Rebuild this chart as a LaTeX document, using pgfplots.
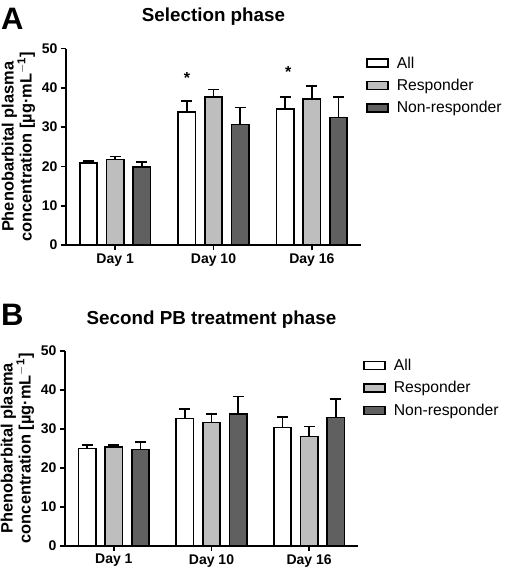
\documentclass[border=0pt]{standalone}
\usepackage{fontspec}
\setmainfont{Liberation Sans}
\usepackage{pgfplots}
\pgfplotsset{compat=1.18}
\definecolor{resp}{RGB}{190,190,190}
\definecolor{nonresp}{RGB}{96,96,96}
\pgfplotsset{
  panel/.style={
    scale only axis,
    xmin=-0.5, xmax=2.5, ymin=0, ymax=50,
    axis x line*=bottom, axis y line*=left,
    axis line style={line width=1.7pt,-},
    xtick={0,1,2}, xticklabels={Day 1,Day 10,Day 16},
    ytick={0,10,20,30,40,50},
    tick align=outside, major tick length=5pt,
    every tick/.style={black,line width=1.7pt},
    tick label style={font=\bfseries\fontsize{14}{16}\selectfont},
    /pgf/number format/assume math mode=true,
    ylabel={Phenobarbital plasma\\concentration [µg·mL$^{\mathbf{-1}}$]},
    ylabel style={align=center,font=\bfseries\fontsize{16.4}{18}\selectfont},
    title style={at={(0.5,1)},anchor=base,yshift=21pt,font=\bfseries\fontsize{18.8}{20}\selectfont},
    ybar=9.2pt, bar width=17.5pt,
    legend style={at={(rel axis cs:1,1)},anchor=north west,xshift=2pt,yshift=-4pt,
      draw=none,fill=none,font=\fontsize{15.7}{18}\selectfont,row sep=5.5pt,
      legend cell align=left,
      /tikz/every odd column/.style={column sep=6pt}},
    legend image code/.code={\draw[#1,line width=1.6pt] (0pt,-4pt) rectangle (21pt,4pt);},
  },
  barA/.style={draw=black,line width=1.6pt,
    error bars/.cd, y dir=plus, y explicit,
    error bar style={line width=1.6pt,black},
    error mark options={rotate=90,mark size=5.5pt,line width=1.6pt,black}},
}
\begin{document}
\begin{tikzpicture}
\useasboundingbox (0,0) rectangle (504pt,-568pt);
\node[anchor=base west,font=\bfseries\fontsize{31}{31}\selectfont,inner sep=0pt] at (1pt,-29pt) {A};
\node[anchor=base west,font=\bfseries\fontsize{31}{31}\selectfont,inner sep=0pt] at (1pt,-325pt) {B};
\begin{axis}[panel, at={(66pt,-245pt)}, anchor=south west, width=295pt, height=196.5pt,
  title={Selection phase}]
\addplot[fill=white, barA] coordinates {(0,20.8) +- (0,0.6) (1,33.8) +- (0,2.8) (2,34.6) +- (0,3.0)};
\addplot[fill=resp, barA] coordinates {(0,21.8) +- (0,0.7) (1,37.6) +- (0,2.0) (2,37.2) +- (0,3.2)};
\addplot[fill=nonresp, barA] coordinates {(0,19.9) +- (0,1.2) (1,30.7) +- (0,4.3) (2,32.4) +- (0,5.2)};
\legend{All,Responder,Non-responder}
\node[font=\bfseries\fontsize{16}{16}\selectfont] at (axis cs:0.73,42.6) {*};
\node[font=\bfseries\fontsize{16}{16}\selectfont] at (axis cs:1.76,43.9) {*};
\end{axis}
\begin{axis}[panel, at={(65pt,-545.7pt)}, anchor=south west, width=293pt, height=194.7pt,
  title={Second PB treatment phase}]
\addplot[fill=white, barA] coordinates {(0,25.0) +- (0,0.9) (1,32.7) +- (0,2.4) (2,30.4) +- (0,2.7)};
\addplot[fill=resp, barA] coordinates {(0,25.3) +- (0,0.6) (1,31.6) +- (0,2.2) (2,28.0) +- (0,2.6)};
\addplot[fill=nonresp, barA] coordinates {(0,24.7) +- (0,1.9) (1,33.8) +- (0,4.5) (2,32.9) +- (0,4.8)};
\legend{All,Responder,Non-responder}
\end{axis}
\end{tikzpicture}
\end{document}
